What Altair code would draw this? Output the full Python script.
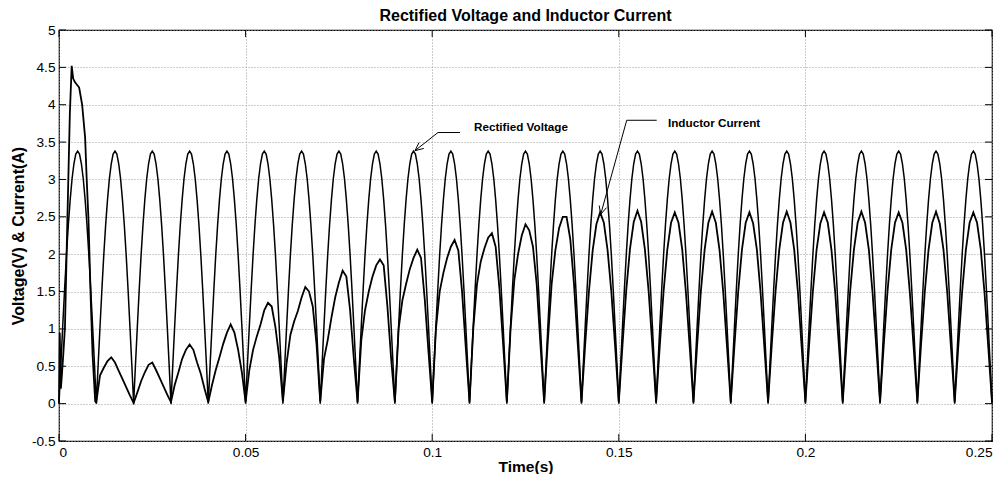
import altair as alt
import pandas as pd

# ---------------- data ----------------
# Rectified voltage: one half-cycle (10 ms) sampled every 0.5 ms; identical each half-cycle
VOLT_HALF_CYCLE = [0.00, 0.53, 1.04, 1.53, 1.99, 2.39, 2.73, 3.01, 3.21, 3.34,
                   3.38, 3.34, 3.21, 3.01, 2.73, 2.39, 1.99, 1.53, 1.04, 0.53]
N_HALF_CYCLES = 25
VOLT_STEP = 0.0005

# Inductor current, first (start-up) half-cycle, irregular times
CUR_START_T = [0.0, 0.0002, 0.0005, 0.0008, 0.0012, 0.0016, 0.0021, 0.0029, 0.0034,
               0.0038, 0.0043, 0.0054, 0.0062, 0.0070, 0.0074, 0.0079, 0.0085, 0.0090, 0.0097]
CUR_START_I = [0.0, 0.95, 0.20, 0.40, 0.70, 1.03, 2.14, 3.87, 4.52,
               4.35, 4.30, 4.23, 4.00, 3.56, 3.03, 2.46, 1.40, 0.65, 0.03]

# Inductor current for the following half-cycles, sampled every 1 ms from 0.010 s
CUR_STEP = 0.001
CUR_CYCLES = [
    [0.02, 0.38, 0.48, 0.57, 0.62, 0.55, 0.44, 0.33, 0.22, 0.11],
    [0.01, 0.15, 0.30, 0.42, 0.52, 0.55, 0.45, 0.34, 0.23, 0.12],
    [0.02, 0.25, 0.42, 0.60, 0.72, 0.79, 0.72, 0.55, 0.40, 0.20],
    [0.02, 0.25, 0.45, 0.62, 0.80, 0.95, 1.06, 0.95, 0.72, 0.42],
    [0.02, 0.45, 0.72, 0.90, 1.06, 1.25, 1.35, 1.30, 1.02, 0.62],
    [0.03, 0.55, 0.92, 1.10, 1.24, 1.42, 1.56, 1.50, 1.30, 0.80],
    [0.03, 0.60, 0.85, 1.15, 1.42, 1.62, 1.78, 1.70, 1.25, 0.60],
    [0.02, 0.85, 1.25, 1.50, 1.70, 1.85, 1.93, 1.85, 1.30, 0.60],
    [0.02, 1.00, 1.38, 1.60, 1.80, 1.95, 2.06, 1.95, 1.40, 0.70],
    [0.02, 1.00, 1.50, 1.75, 1.95, 2.10, 2.19, 2.05, 1.50, 0.75],
    [0.02, 1.00, 1.60, 1.90, 2.08, 2.22, 2.28, 2.10, 1.55, 0.80],
    [0.02, 1.00, 1.65, 2.00, 2.25, 2.40, 2.32, 2.10, 1.60, 0.80],
    [0.02, 0.85, 1.60, 2.05, 2.35, 2.50, 2.50, 2.20, 1.60, 0.80],
    [0.02, 0.80, 1.50, 2.05, 2.40, 2.56, 2.42, 2.05, 1.50, 0.78],
    [0.02, 0.79, 1.52, 2.07, 2.43, 2.58, 2.43, 2.06, 1.50, 0.77],
    [0.02, 0.79, 1.50, 2.06, 2.42, 2.56, 2.42, 2.06, 1.48, 0.76],
    [0.02, 0.79, 1.51, 2.06, 2.42, 2.57, 2.42, 2.05, 1.48, 0.76],
    [0.02, 0.79, 1.50, 2.06, 2.42, 2.56, 2.41, 2.06, 1.48, 0.76],
    [0.02, 0.80, 1.50, 2.06, 2.42, 2.57, 2.42, 2.06, 1.49, 0.76],
    [0.02, 0.79, 1.50, 2.06, 2.41, 2.56, 2.42, 2.05, 1.48, 0.76],
    [0.02, 0.79, 1.51, 2.06, 2.42, 2.57, 2.42, 2.06, 1.48, 0.76],
    [0.02, 0.79, 1.50, 2.06, 2.42, 2.56, 2.42, 2.06, 1.48, 0.76],
    [0.02, 0.80, 1.50, 2.06, 2.42, 2.57, 2.41, 2.06, 1.49, 0.76],
    [0.02, 0.79, 1.50, 2.06, 2.42, 2.56, 2.42, 2.06, 1.48, 0.76],
]
CUR_END = 0.02

X_TICKS = [0, 0.05, 0.1, 0.15, 0.2, 0.25]
Y_TICKS = [-0.5, 0, 0.5, 1, 1.5, 2, 2.5, 3, 3.5, 4, 4.5, 5]

TITLE = "Rectified Voltage and Inductor Current"

# annotations (data units)
ANNOT_TEXT = ["Rectified Voltage", "Inductor Current"]
ANNOT_TEXT_T = [0.1112, 0.16318]
ANNOT_TEXT_V = [3.70, 3.757]
ARROW_V_LINE_T = [0.10745, 0.10155, 0.09539]
ARROW_V_LINE_V = [3.628, 3.628, 3.385]
ARROW_V_HEAD_T = [0.09775, 0.09539, 0.09649]
ARROW_V_HEAD_V = [3.415, 3.385, 3.495]
ARROW_I_LINE_T = [0.16016, 0.15212, 0.14515]
ARROW_I_LINE_V = [3.792, 3.792, 2.532]
ARROW_I_HEAD_T = [0.14670, 0.14515, 0.14475]
ARROW_I_HEAD_V = [2.623, 2.532, 2.651]

# ---------------- build tables ----------------
volt_rows = []
k = 0
for c in range(N_HALF_CYCLES):
    for val in VOLT_HALF_CYCLE:
        volt_rows.append({"t": round(k * VOLT_STEP, 6), "v": val, "o": k})
        k += 1
volt_rows.append({"t": round(k * VOLT_STEP, 6), "v": 0.0, "o": k})
volt_df = pd.DataFrame(volt_rows)

cur_rows = []
o = 0
for tt, ii in zip(CUR_START_T, CUR_START_I):
    cur_rows.append({"t": tt, "v": ii, "o": o}); o += 1
k = 10
for cyc in CUR_CYCLES:
    for val in cyc:
        cur_rows.append({"t": round(k * CUR_STEP, 6), "v": val, "o": o}); o += 1; k += 1
cur_rows.append({"t": round(k * CUR_STEP, 6), "v": CUR_END, "o": o})
cur_df = pd.DataFrame(cur_rows)

def path_df(ts, vs, name):
    return pd.DataFrame({"t": ts, "v": vs, "o": list(range(len(ts))), "g": name})

arrows_df = pd.concat([
    path_df(ARROW_V_LINE_T, ARROW_V_LINE_V, "a"),
    path_df(ARROW_V_HEAD_T, ARROW_V_HEAD_V, "b"),
    path_df(ARROW_I_LINE_T, ARROW_I_LINE_V, "c"),
    path_df(ARROW_I_HEAD_T, ARROW_I_HEAD_V, "d"),
])
text_df = pd.DataFrame({"t": ANNOT_TEXT_T, "v": ANNOT_TEXT_V, "label": ANNOT_TEXT})
xt_df = pd.DataFrame({"t": X_TICKS})
yt_df = pd.DataFrame({"v": Y_TICKS})
title_df = pd.DataFrame({"label": [TITLE]})

# ---------------- chart ----------------
FONT = "Liberation Sans"
W, H = 933, 411

x_axis = alt.Axis(values=X_TICKS, labelExpr="'' + datum.value", title="Time(s)",
                  grid=True, gridColor="#9a9a9a", gridDash=[1, 2], gridWidth=1,
                  ticks=False, domain=False, labelFont=FONT, labelFontSize=13.7,
                  labelColor="black", labelPadding=4, titleFont=FONT, titleFontSize=15.5,
                  titleFontWeight="bold", titleColor="black",
                  titleBaseline="alphabetic", titleY=30.5)
y_axis = alt.Axis(values=Y_TICKS, labelExpr="'' + datum.value", title="Voltage(V) & Current(A)",
                  grid=True, gridColor="#9a9a9a", gridDash=[1, 2], gridWidth=1,
                  ticks=False, domain=False, labelFont=FONT, labelFontSize=13.7,
                  labelColor="black", labelPadding=4, titleFont=FONT, titleFontSize=16,
                  titleFontWeight="bold", titleColor="black", titlePadding=5)

X = alt.X("t:Q", scale=alt.Scale(domain=[0, 0.25], nice=False, zero=False), axis=x_axis)
Y = alt.Y("v:Q", scale=alt.Scale(domain=[-0.5, 5], nice=False, zero=False), axis=y_axis)

volt = alt.Chart(volt_df).mark_line(color="black", strokeWidth=1.5).encode(x=X, y=Y, order="o:Q")
cur = alt.Chart(cur_df).mark_line(color="black", strokeWidth=1.8).encode(x=X, y=Y, order="o:Q")
arrows = alt.Chart(arrows_df).mark_line(color="black", strokeWidth=1).encode(
    x=X, y=Y, detail="g:N", order="o:Q")
texts = alt.Chart(text_df).mark_text(font=FONT, fontSize=11.7, fontWeight="bold",
                                     align="left", baseline="middle", color="black").encode(
    x=X, y=Y, text="label:N")
title = alt.Chart(title_df).mark_text(font=FONT, fontSize=16, fontWeight="bold",
                                      align="center", baseline="alphabetic", color="black").encode(
    x=alt.value(W / 2), y=alt.value(-9), text="label:N")

TL = 7
xt_bot = alt.Chart(xt_df).mark_rule(color="black", strokeWidth=1).encode(
    x=X, y=alt.value(H), y2=alt.value(H - TL))
xt_top = alt.Chart(xt_df).mark_rule(color="black", strokeWidth=1).encode(
    x=X, y=alt.value(0), y2=alt.value(TL))
yt_left = alt.Chart(yt_df).mark_rule(color="black", strokeWidth=1).encode(
    y=Y, x=alt.value(0), x2=alt.value(TL))
yt_right = alt.Chart(yt_df).mark_rule(color="black", strokeWidth=1).encode(
    y=Y, x=alt.value(W), x2=alt.value(W - TL))

chart = alt.layer(volt, cur, arrows, texts, title, xt_bot, xt_top, yt_left, yt_right).properties(
    width=W, height=H,
    autosize=alt.AutoSizeParams(type="none"),
    padding={"left": 51, "top": 22, "right": 8, "bottom": 33},
    background="white",
).configure_view(stroke="black", strokeWidth=1.2)

chart.save("out.html", embed_options={"renderer": "svg", "actions": False})
